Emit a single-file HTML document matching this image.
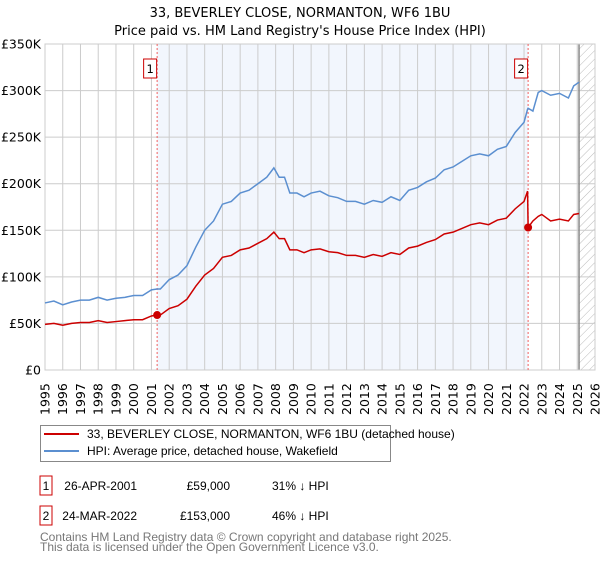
<!DOCTYPE html>
<html><head><meta charset="utf-8"><style>
body{margin:0;background:#fff;font-family:"Liberation Sans","DejaVu Sans",sans-serif;}
svg text{font-family:"DejaVu Sans","Liberation Sans",sans-serif;}
svg text.lib{font-family:"Liberation Sans","DejaVu Sans",sans-serif;}
</style></head><body>
<svg id="chart" width="600" height="560" viewBox="0 0 600 560" xmlns="http://www.w3.org/2000/svg">
<defs><pattern id="hatch" patternUnits="userSpaceOnUse" width="6" height="6" patternTransform="rotate(45)"><line x1="0" y1="0" x2="0" y2="6" stroke="#bbb" stroke-width="1"/></pattern></defs>
<text x="300" y="17" text-anchor="middle" font-size="13">33, BEVERLEY CLOSE, NORMANTON, WF6 1BU</text>
<text x="300" y="35" text-anchor="middle" font-size="13">Price paid vs. HM Land Registry's House Price Index (HPI)</text>
<g id="plot"></g>
<g>
<rect x="40.5" y="425.5" width="350" height="36" fill="#fff" stroke="#888"/>
<line x1="44" y1="434" x2="79" y2="434" stroke="#cc0000" stroke-width="2"/>
<text class="lib" x="87" y="438" font-size="12">33, BEVERLEY CLOSE, NORMANTON, WF6 1BU (detached house)</text>
<line x1="44" y1="451" x2="79" y2="451" stroke="#5b8fd0" stroke-width="2"/>
<text class="lib" x="87" y="455" font-size="12">HPI: Average price, detached house, Wakefield</text>
</g>
<g font-size="12">
<rect x="40" y="476" width="12" height="19" fill="#fff" stroke="#cc0000"/><text class="lib" x="46" y="490" text-anchor="middle">1</text>
<text class="lib" x="137" y="490" text-anchor="end">26-APR-2001</text><text class="lib" x="230" y="490" text-anchor="end">£59,000</text><text class="lib" x="272" y="490">31% ↓ HPI</text>
<rect x="40" y="506" width="12" height="19" fill="#fff" stroke="#cc0000"/><text class="lib" x="46" y="520" text-anchor="middle">2</text>
<text class="lib" x="137" y="520" text-anchor="end">24-MAR-2022</text><text class="lib" x="230" y="520" text-anchor="end">£153,000</text><text class="lib" x="272" y="520">46% ↓ HPI</text>
</g>
<g fill="#777" font-size="12">
<text class="lib" x="40" y="541">Contains HM Land Registry data © Crown copyright and database right 2025.</text>
<text class="lib" x="40" y="551">This data is licensed under the Open Government Licence v3.0.</text>
</g>
</svg>
<script>
const years=[1995,1995.5,1996,1996.5,1997,1997.5,1998,1998.5,1999,1999.5,2000,2000.5,2001,2001.32,2001.5,2002,2002.5,2003,2003.5,2004,2004.5,2005,2005.5,2006,2006.5,2007,2007.5,2007.9,2008.2,2008.5,2008.8,2009.2,2009.6,2010,2010.5,2011,2011.5,2012,2012.5,2013,2013.5,2014,2014.5,2015,2015.5,2016,2016.5,2017,2017.5,2018,2018.5,2019,2019.5,2020,2020.5,2021,2021.5,2022,2022.2,2022.23,2022.5,2022.8,2023,2023.5,2024,2024.5,2024.8,2025.1];
const hpi=[72,74,70,73,75,75,78,75,77,78,80,80,86,87,87,97,102,112,132,150,160,178,181,190,193,200,207,217,207,207,190,190,186,190,192,187,185,181,181,178,182,180,186,182,193,196,202,206,215,218,224,230,232,230,237,240,255,266,280,281,278,298,300,295,297,292,305,309];
const paid=[49,50,48,50,51,51,53,51,52,53,54,54,58,59,59,66,69,76,90,102,109,121,123,129,131,136,141,148,141,141,129,129,126,129,130,127,126,123,123,121,124,122,126,124,131,133,137,140,146,148,152,156,158,156,161,163,173,181,192,153,160,165,167,160,162,160,167,168];
const yTicks=[0,50,100,150,200,250,300,350];
const yTickLabels=["£0","£50K","£100K","£150K","£200K","£250K","£300K","£350K"];
const xTicks=[1995,1996,1997,1998,1999,2000,2001,2002,2003,2004,2005,2006,2007,2008,2009,2010,2011,2012,2013,2014,2015,2016,2017,2018,2019,2020,2021,2022,2023,2024,2025,2026];
const sales=[2001.32,2022.23];
const salePrices=[59,153];
const saleLabels=["1","2"];
const dataEnd=2025.1;
const X0=45,X1=595,Y0=370,Y1=44,YMIN=1995,YMAXY=2026,VMAX=350;
const sx=y=>X0+(y-YMIN)*(X1-X0)/(YMAXY-YMIN);
const sy=v=>Y0-v*(Y0-Y1)/VMAX;
const NS="http://www.w3.org/2000/svg";
const g=document.getElementById('plot');
function mk(t,a){const e=document.createElementNS(NS,t);for(const k in a)e.setAttribute(k,a[k]);g.appendChild(e);return e;}
let e=mk('rect',{x:sx(sales[0]),y:Y1,width:sx(sales[1])-sx(sales[0]),height:Y0-Y1,fill:'#f2f6fd'});


e=mk('rect',{x:sx(dataEnd),y:Y1,width:X1-sx(dataEnd),height:Y0-Y1,fill:'url(#hatch)'});


xTicks.forEach(t=>{
 e=mk('line',{x1:sx(t),x2:sx(t),y1:Y1,y2:Y0,stroke:'#ccc','stroke-width':1});
 
 
 e=mk('text',{transform:`translate(${sx(t)+4.5},${Y0+45}) rotate(-90)`,'font-size':12.5});
 e.textContent=t;
 
 
});
yTicks.forEach((t,i)=>{
 e=mk('line',{x1:X0,x2:X1,y1:sy(t),y2:sy(t),stroke:'#ccc','stroke-width':1});
 
 
 e=mk('text',{x:X0-4,y:sy(t)+4.5,'text-anchor':'end','font-size':12.5});
 e.textContent=yTickLabels[i];
 
 
});
e=mk('line',{x1:sx(dataEnd),x2:sx(dataEnd),y1:Y1,y2:Y0,stroke:'#888','stroke-width':1.5});


e=mk('rect',{x:X0,y:Y1,width:X1-X0,height:Y0-Y1,fill:'none',stroke:'#ccc'});


sales.forEach((s,i)=>{
 e=mk('line',{x1:sx(s),x2:sx(s),y1:Y1,y2:Y0,stroke:'#f06060','stroke-width':1,'stroke-dasharray':'2,2'});
 
 
});
e=mk('polyline',{points:years.map((y,i)=>sx(y)+','+sy(hpi[i])).join(' '),fill:'none',stroke:'#5b8fd0','stroke-width':1.5});


e=mk('polyline',{points:years.map((y,i)=>sx(y)+','+sy(paid[i])).join(' '),fill:'none',stroke:'#cc0000','stroke-width':1.5});


sales.forEach((s,i)=>{
 e=mk('circle',{cx:sx(s),cy:sy(salePrices[i]),r:4,fill:'#cc0000'});
 
 
 e=mk('rect',{x:sx(s)-13.5,y:59,width:13,height:19,fill:'#fff',stroke:'#cc0000'});
 
 
 e=mk('text',{x:sx(s)-7,y:73,'text-anchor':'middle','font-size':11.5});
 e.textContent=saleLabels[i];
 
 
});
</script>
</body></html>
